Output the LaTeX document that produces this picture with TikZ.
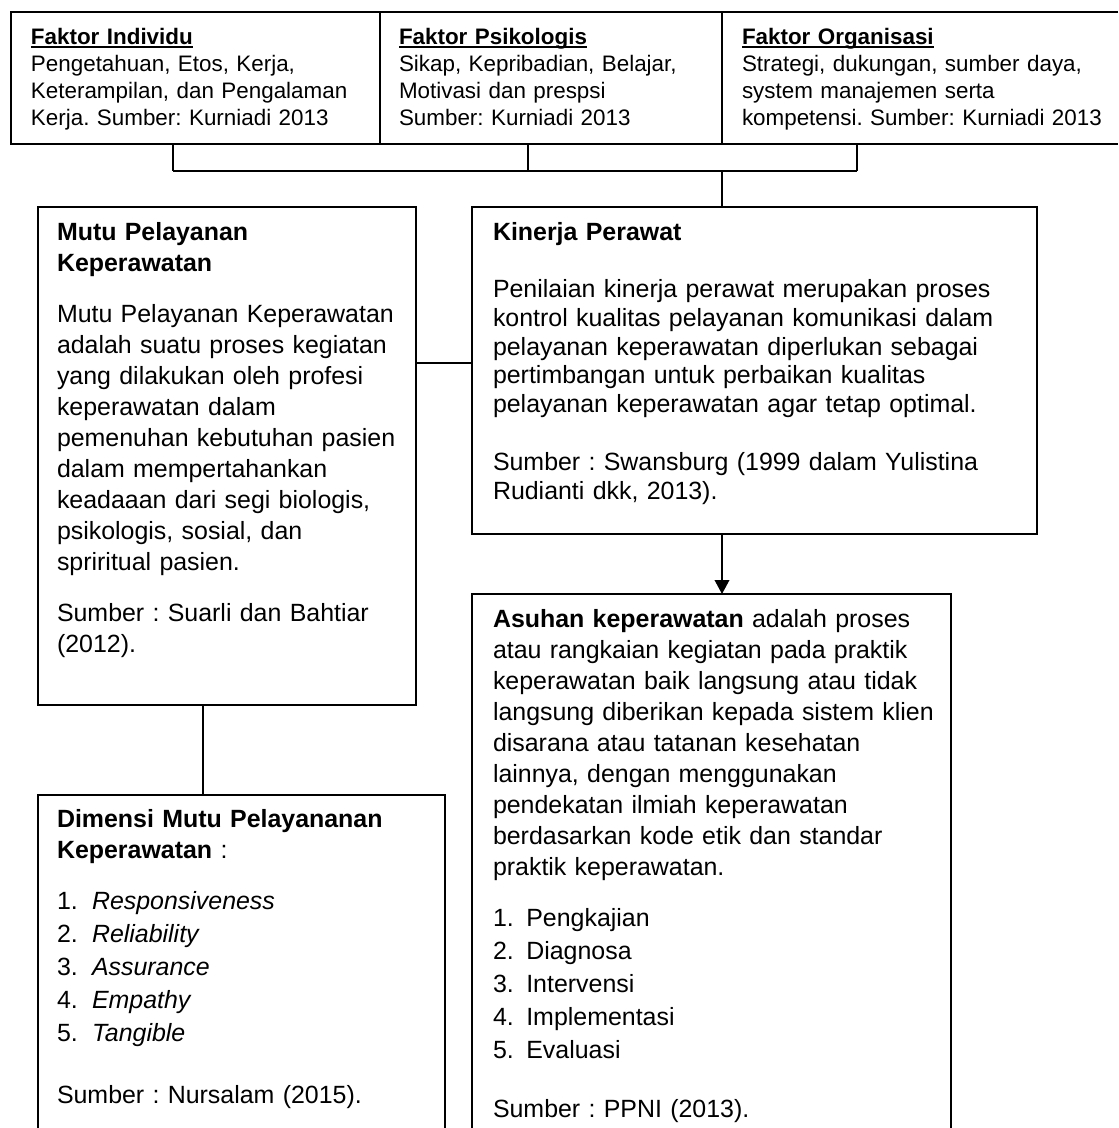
\documentclass[tikz,border=0pt]{standalone}
\usepackage{fontspec}
\setmainfont{Liberation Sans}
\usetikzlibrary{calc,arrows.meta}
\frenchspacing
\newcommand\myul[1]{\setbox0\hbox{#1}\rlap{\vrule width\wd0 height -1.0pt depth 2.5pt}\box0}
\newcommand\itm[2]{\makebox[#1][l]{#2}}
\tikzset{
  frame/.style={draw, line width=0.9pt, inner sep=0pt, outer sep=0pt, anchor=north west},
  openframe/.style={inner sep=0pt, outer sep=0pt, anchor=north west},
  edge/.style={line width=0.9pt},
  txt/.style={anchor=north west, inner sep=0pt, outer sep=0pt, align=left, text width=#1},
  topfont/.style={font=\fontsize{16.8pt}{20.25pt}\selectfont\frenchspacing},
  bodyfont/.style={font=\fontsize{18.7pt}{23.25pt}\selectfont\frenchspacing},
  kinfont/.style={font=\fontsize{18.7pt}{21.4pt}\selectfont\frenchspacing},
}
\begin{document}
\begin{tikzpicture}[x=0.75pt,y=-0.75pt]
\useasboundingbox (0,0) rectangle (1118,1128);

% top row of boxes
\node[frame, minimum width=369*0.75pt, minimum height=132*0.75pt] (f1) at (11,12) {};
\node[frame, minimum width=342*0.75pt, minimum height=132*0.75pt] (f2) at (380,12) {};
\node[openframe, minimum width=396*0.75pt, minimum height=132*0.75pt] (f3) at (722,12) {};
\draw[edge] (f3.north east) -- (f3.north west) -- (f3.south west) -- (f3.south east);

\node[txt=255pt, topfont] (t1) at (31,28) {\myul{\textbf{Faktor Individu}}\\
Pengetahuan, Etos, Kerja,\\
Keterampilan, dan Pengalaman\\
Kerja. Sumber: Kurniadi 2013};
\node[txt=240pt, topfont] (t2) at (399,28) {\myul{\textbf{Faktor Psikologis}}\\
Sikap, Kepribadian, Belajar,\\
Motivasi dan prespsi\\
Sumber: Kurniadi 2013};
\node[txt=278pt, topfont] (t3) at (742,28) {\myul{\textbf{Faktor Organisasi}}\\
Strategi, dukungan, sumber daya,\\
system manajemen serta\\
kompetensi. Sumber: Kurniadi 2013};

% middle boxes
\node[frame, minimum width=378*0.75pt, minimum height=498*0.75pt] (mutu) at (38,207) {};
\node[frame, line width=1.2pt, minimum width=565*0.75pt, minimum height=327*0.75pt] (kin) at (472,207) {};

\node[txt=268pt, bodyfont] (mutut) at (57,222) {\textbf{Mutu Pelayanan}\\
\textbf{Keperawatan}\\[15pt]
Mutu Pelayanan Keperawatan\\
adalah suatu proses kegiatan\\
yang dilakukan oleh profesi\\
keperawatan dalam\\
pemenuhan kebutuhan pasien\\
dalam mempertahankan\\
keadaaan dari segi biologis,\\
psikologis, sosial, dan\\
spriritual pasien.\\[15pt]
Sumber : Suarli dan Bahtiar\\
(2012).};

\node[txt=400pt, kinfont] (kint) at (493,222) {\textbf{Kinerja Perawat}\\[22pt]
Penilaian kinerja perawat merupakan proses\\
kontrol kualitas pelayanan komunikasi dalam\\
pelayanan keperawatan diperlukan sebagai\\
pertimbangan untuk perbaikan kualitas\\
pelayanan keperawatan agar tetap optimal.\\[22.5pt]
Sumber : Swansburg (1999 dalam Yulistina\\
Rudianti dkk, 2013).};

% bottom boxes (open at the bottom edge)
\node[openframe, minimum width=407*0.75pt, minimum height=333*0.75pt] (dim) at (38,795) {};
\draw[edge] (dim.south west) -- (dim.north west) -- (dim.north east) -- (dim.south east);
\node[openframe, minimum width=479*0.75pt, minimum height=534*0.75pt] (asu) at (472,594) {};
\draw[edge] (asu.south west) -- (asu.north west) -- (asu.north east) -- (asu.south east);

\node[txt=282pt, bodyfont] (dimt) at (57,809) {\textbf{Dimensi Mutu Pelayananan}\\
\textbf{Keperawatan} :\\[15.5pt]
\itm{26.25pt}{1.}\textit{Responsiveness}\\[1.5pt]
\itm{26.25pt}{2.}\textit{Reliability}\\[1.5pt]
\itm{26.25pt}{3.}\textit{Assurance}\\[1.5pt]
\itm{26.25pt}{4.}\textit{Empathy}\\[1.5pt]
\itm{26.25pt}{5.}\textit{Tangible}\\[23pt]
Sumber : Nursalam (2015).};

\node[txt=340pt, bodyfont] (asut) at (493,609) {\textbf{Asuhan keperawatan} adalah proses\\
atau rangkaian kegiatan pada praktik\\
keperawatan baik langsung atau tidak\\
langsung diberikan kepada sistem klien\\
disarana atau tatanan kesehatan\\
lainnya, dengan menggunakan\\
pendekatan ilmiah keperawatan\\
berdasarkan kode etik dan standar\\
praktik keperawatan.\\[15.5pt]
\itm{25pt}{1.}Pengkajian\\[1.5pt]
\itm{25pt}{2.}Diagnosa\\[1.5pt]
\itm{25pt}{3.}Intervensi\\[1.5pt]
\itm{25pt}{4.}Implementasi\\[1.5pt]
\itm{25pt}{5.}Evaluasi\\[21pt]
Sumber : PPNI (2013).};

% connectors
\coordinate (b1) at (173,171);
\coordinate (b2) at (528,171);
\coordinate (b3) at (857,171);
\coordinate (bj) at (722,171);
\coordinate (hm) at (0,363);
\coordinate (vm) at (203,0);

\draw[edge] (b1 |- f1.south) -- (b1);
\draw[edge] (b2 |- f2.south) -- (b2);
\draw[edge] (b3 |- f3.south) -- (b3);
\draw[line width=1.4pt] (b1) -- (b3);
\draw[edge] (bj) -- (bj |- kin.north);
\draw[edge] (mutu.east |- hm) -- (kin.west |- hm);
\draw[edge] (vm |- mutu.south) -- (vm |- dim.north);
\draw[line width=1.2pt, -{Triangle[width=11pt,length=10.5pt]}] (bj |- kin.south) -- (bj |- asu.north);
\end{tikzpicture}
\end{document}
